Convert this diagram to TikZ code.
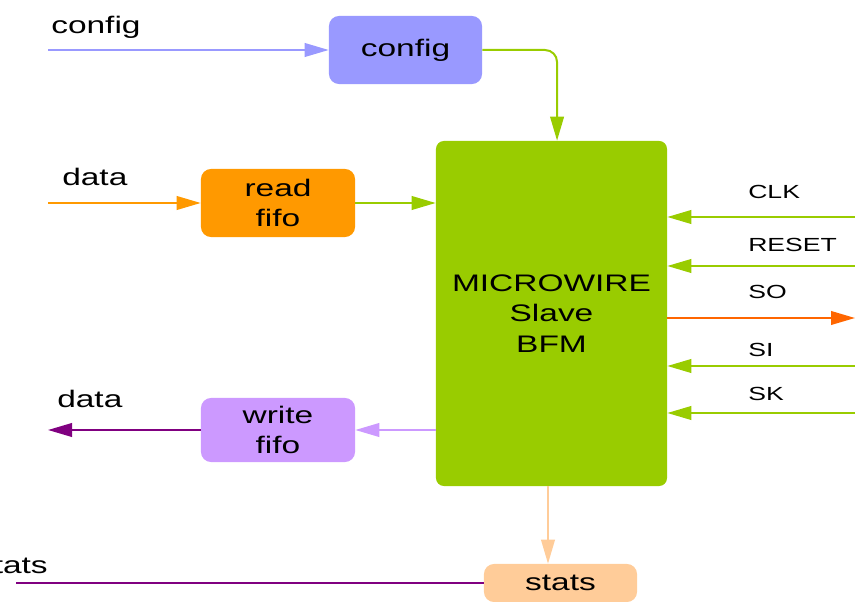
\documentclass[tikz,border=0pt]{standalone}
\usepackage{fontspec}
\newfontfamily\wideSans[FakeStretch=1.4]{Liberation Sans}
\usepackage{tikz}
\usetikzlibrary{positioning,arrows.meta,calc}
\definecolor{cfgblue}{HTML}{9999FF}
\definecolor{bfmgreen}{HTML}{99CC00}
\definecolor{rdorange}{HTML}{FF9900}
\definecolor{wrlilac}{HTML}{CC99FF}
\definecolor{stpeach}{HTML}{FFCC99}
\definecolor{outpurple}{HTML}{800080}
\definecolor{soorange}{HTML}{FF6600}

\begin{document}
\begin{tikzpicture}[
  x=0.025cm, y=-0.025cm,
  blk/.style={rounded corners=2.5mm, inner sep=0pt, align=center,
              font=\wideSans\fontsize{17}{21}\selectfont},
  bfm/.style={rounded corners=2mm, inner sep=0pt, align=center,
              font=\wideSans\fontsize{17}{21.6}\selectfont},
  lbl/.style={inner sep=0pt, font=\wideSans\fontsize{17}{21}\selectfont},
  pin/.style={inner sep=0pt, font=\wideSans\fontsize{13.5}{16}\selectfont},
  wire/.style={-{Triangle[length=6mm, width=3.4mm]}, line width=0.5mm},
  bus/.style={line width=0.5mm},
]
\useasboundingbox (0,0) rectangle (855,602);

% ---- blocks ----
\node[blk, fill=cfgblue, minimum width=3.825cm, minimum height=1.7cm]
  (cfg) at (405.5,50) {config};
\node[bfm, fill=bfmgreen, minimum width=5.775cm, minimum height=8.625cm]
  (bfm) at (551.5,313.5) {MICROWIRE\\Slave\\BFM};
\node[blk, fill=rdorange, minimum width=3.85cm, minimum height=1.7cm]
  (rdfifo) at (278,203) {read\\fifo};
\node[blk, fill=wrlilac, minimum width=3.85cm, minimum height=1.6cm]
  (wrfifo) at (278,430) {write\\fifo};
\node[blk, fill=stpeach, minimum width=3.825cm, minimum height=0.95cm]
  (stats) at (560.5,583) {stats};

% ---- left side ----
\coordinate (cfgIn) at (48,50);
\coordinate (dataIn) at (48,203);
\coordinate (dataOut) at (48,430);
\coordinate (statsOut) at (16,583);
\node[lbl, anchor=base west] (cfgLbl) at (51,34) {config};
\node[lbl, anchor=base west] (dinLbl) at (62,186) {data};
\node[lbl, anchor=base west] (doutLbl) at (57,408) {data};
\node[lbl, anchor=base east] (statsLbl) at (48,573) {stats};

\draw[wire, cfgblue] (cfgIn) -- (cfg.west);
\draw[wire, rdorange] (dataIn) -- (rdfifo.west);
\draw[wire, outpurple] (wrfifo.west) -- (dataOut);
\draw[bus, outpurple] (stats.west) -- (statsOut);

% ---- into and out of the BFM ----
\draw[wire, bfmgreen, rounded corners=3mm]
  (cfg.east) -| ($(bfm.north west)!0.524!(bfm.north east)$);
\draw[wire, bfmgreen] (rdfifo.east) -- (bfm.west |- rdfifo.east);
\draw[wire, wrlilac] (bfm.west |- wrfifo.east) -- (wrfifo.east);
\draw[wire, stpeach] (bfm.south -| stats.north) ++(-12.5,0) coordinate (bfmS)
  -- (bfmS |- stats.north);

% ---- pins on the right ----
\foreach \name/\y/\yl in {CLK/217/199, RESET/266/252, SI/366/357, SK/413/401} {
  \coordinate (p\name) at (855,\y);
  \node[pin, anchor=base west] (l\name) at (748,\yl) {\name};
  \draw[wire, bfmgreen] (p\name) -- (bfm.east |- p\name);
}
\coordinate (pSO) at (855,318);
\node[pin, anchor=base west] (lSO) at (748,299) {SO};
\draw[wire, soorange] (bfm.east |- pSO) -- (pSO);

\end{tikzpicture}
\end{document}
